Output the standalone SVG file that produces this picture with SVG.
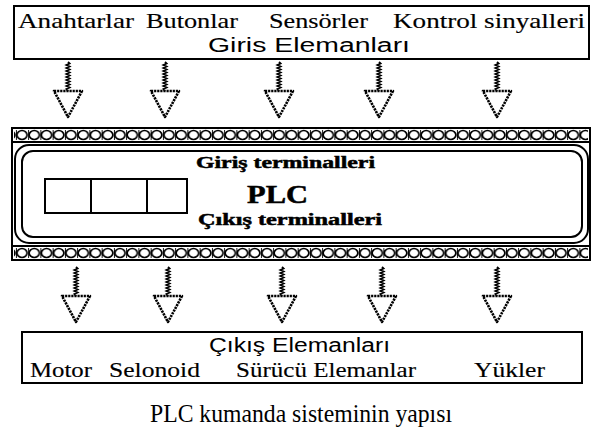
<svg xmlns="http://www.w3.org/2000/svg" width="595" height="436" viewBox="0 0 595 436">
<style>
.box{fill:#fff;stroke:#000;stroke-width:2}
.ln{fill:none;stroke:#000;stroke-width:2}
.ser{font-family:"Liberation Serif","Times New Roman",serif;font-size:21px;fill:#000;stroke:#000;stroke-width:0.15}
.san{font-family:"Liberation Sans",Arial,sans-serif;font-size:20px;fill:#000}
.bld{font-family:"Liberation Serif","Times New Roman",serif;font-weight:bold;fill:#000;stroke:#000;stroke-width:0.5}
.cap{font-family:"Liberation Serif","Times New Roman",serif;font-size:26px;fill:#000}
</style>
<defs>
<pattern id="beads" patternUnits="userSpaceOnUse" x="15.9" y="129" width="12.25" height="12">
<rect width="12.25" height="12" fill="#fff"/>
<ellipse cx="6.125" cy="6" rx="5.1" ry="4.5" fill="none" stroke="#000" stroke-width="1.7"/>
<line x1="0" y1="1" x2="0" y2="11" stroke="#000" stroke-width="1.8"/>
</pattern>
<g id="arr">
<polyline points="0,0 1.6,1.5 -1.6,3 1.6,4.5 -1.6,6 1.6,7.5 -1.6,9 1.6,10.5 -1.6,12 1.6,13.5 -1.6,15 1.6,16.5 -1.6,18 1.6,19.5 -1.6,21 1.6,22.5 -1.6,24 1.6,25.5 -1.6,27 0,29" fill="none" stroke="#000" stroke-width="1.8"/>
<polygon points="-14,29 14,29 0,55" fill="#fff" stroke="#000" stroke-width="2.6" stroke-dasharray="2.2 0.9" stroke-linejoin="round"/>
</g>
</defs>
<rect width="595" height="436" fill="#fff"/>

<g id="input-elements">
<rect class="box" x="14" y="6" width="575" height="53"/>
<text class="ser" x="18" y="28" textLength="116" lengthAdjust="spacingAndGlyphs">Anahtarlar</text>
<text class="ser" x="146" y="28" textLength="92" lengthAdjust="spacingAndGlyphs">Butonlar</text>
<text class="ser" x="269" y="28" textLength="99" lengthAdjust="spacingAndGlyphs">Sensörler</text>
<text class="ser" x="393" y="28" textLength="192" lengthAdjust="spacingAndGlyphs">Kontrol sinyalleri</text>
<text class="san" x="208" y="52" textLength="202" lengthAdjust="spacingAndGlyphs">Giris Elemanları</text>
</g>

<g id="plc">
<rect class="box" x="12" y="128" width="578" height="132"/>
<rect x="14" y="129" width="574" height="12" fill="url(#beads)"/>
<rect x="14" y="129" width="574" height="12" fill="url(#beads)" transform="translate(0,118)"/>
<line class="ln" x1="12" y1="142" x2="590" y2="142"/>
<line class="ln" x1="12" y1="246" x2="590" y2="246"/>
<rect class="ln" x="15" y="145" width="573" height="98" rx="14"/>
<rect class="ln" x="22" y="151" width="560" height="86" rx="11"/>
<rect class="ln" x="45" y="179" width="142" height="34"/>
<line class="ln" x1="91" y1="179" x2="91" y2="213"/>
<line class="ln" x1="147" y1="179" x2="147" y2="213"/>
<text class="bld" x="196" y="168" font-size="17" textLength="179" lengthAdjust="spacingAndGlyphs">Giriş terminalleri</text>
<text class="bld" x="247" y="203" font-size="26" textLength="61" lengthAdjust="spacingAndGlyphs">PLC</text>
<text class="bld" x="198" y="225" font-size="17" textLength="184" lengthAdjust="spacingAndGlyphs">Çıkış terminalleri</text>
</g>

<g id="output-elements">
<rect class="box" x="22" y="332" width="560" height="51"/>
<text class="san" x="209" y="352" textLength="181" lengthAdjust="spacingAndGlyphs">Çıkış Elemanları</text>
<text class="ser" x="30" y="377" textLength="62" lengthAdjust="spacingAndGlyphs">Motor</text>
<text class="ser" x="109" y="377" textLength="91" lengthAdjust="spacingAndGlyphs">Selonoid</text>
<text class="ser" x="236" y="377" textLength="180" lengthAdjust="spacingAndGlyphs">Sürücü Elemanlar</text>
<text class="ser" x="474" y="377" textLength="71" lengthAdjust="spacingAndGlyphs">Yükler</text>
</g>

<g id="connectors">
<use href="#arr" transform="translate(68,62)"/>
<use href="#arr" transform="translate(165,62)"/>
<use href="#arr" transform="translate(279,62)"/>
<use href="#arr" transform="translate(379,62)"/>
<use href="#arr" transform="translate(497,62)"/>
<use href="#arr" transform="translate(76,267)"/>
<use href="#arr" transform="translate(168,267)"/>
<use href="#arr" transform="translate(282,267)"/>
<use href="#arr" transform="translate(382,267)"/>
<use href="#arr" transform="translate(497,267)"/>
</g>

<g id="caption">
<text class="cap" x="150" y="422" textLength="302" lengthAdjust="spacingAndGlyphs">PLC kumanda sisteminin yapısı</text>
</g>
</svg>
